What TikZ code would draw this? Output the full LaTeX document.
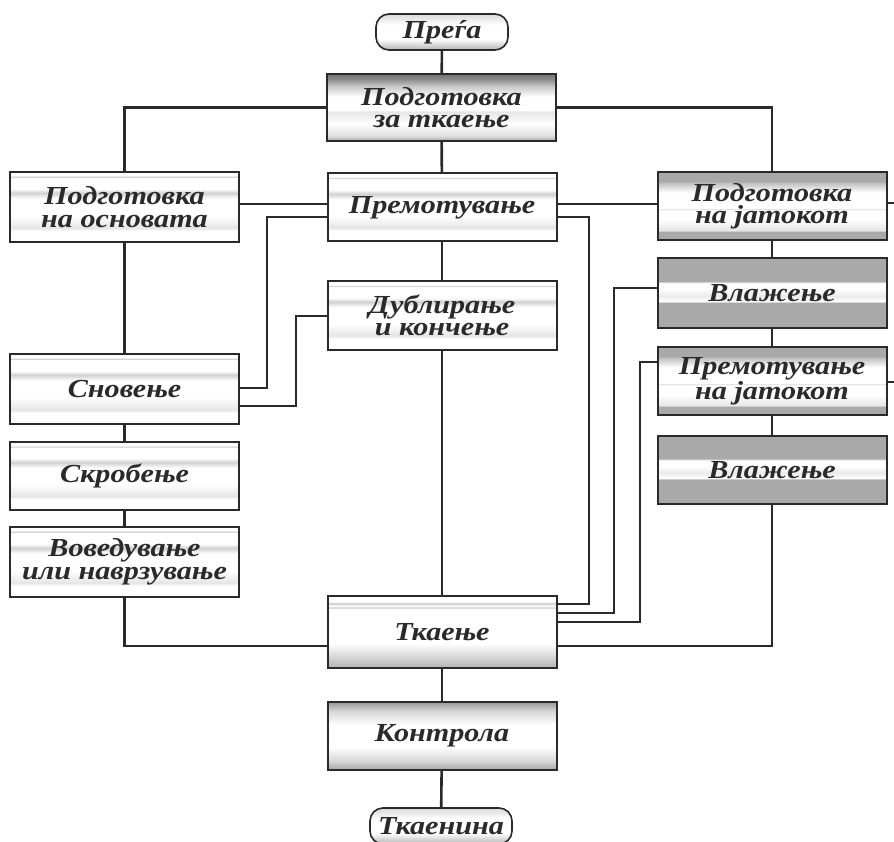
\documentclass[tikz,border=0pt]{standalone}
\usepackage{fontspec}
\setmainfont{Liberation Serif}
\newfontfamily\boxfont[FakeStretch=1.16]{Liberation Serif}
\definecolor{bg}{HTML}{A9A9A9}
\definecolor{ink}{HTML}{2A2A2A}
\pgfdeclareverticalshading{lightband}{100bp}{color(0bp)=(white); color(25bp)=(white); color(33bp)=(white); color(35bp)=(black!10); color(44bp)=(white); color(56bp)=(white); color(60bp)=(black!18); color(63bp)=(white); color(71bp)=(white); color(71.5bp)=(black!20); color(72.5bp)=(white); color(100bp)=(white)}
\pgfdeclareverticalshading{darkthick}{100bp}{color(0bp)=(bg); color(43bp)=(bg); color(44bp)=(white); color(48bp)=(black!8); color(53bp)=(white); color(57bp)=(white); color(58.5bp)=(bg); color(100bp)=(bg)}
\pgfdeclareverticalshading{darkthin}{100bp}{color(0bp)=(bg); color(31bp)=(bg); color(32bp)=(black!10); color(40bp)=(white); color(47bp)=(white); color(47.5bp)=(black!25); color(48bp)=(white); color(60bp)=(white); color(67bp)=(black!25); color(68bp)=(bg); color(100bp)=(bg)}
\pgfdeclareverticalshading{topdark}{100bp}{color(0bp)=(black!35); color(25bp)=(black!35); color(29bp)=(black!12); color(38bp)=(white); color(47bp)=(black!10); color(48bp)=(white); color(58bp)=(white); color(66bp)=(black!22); color(71bp)=(black!45); color(75bp)=(black!55); color(100bp)=(black!55)}
\pgfdeclareverticalshading{bottomdark}{100bp}{color(0bp)=(black!30); color(25bp)=(black!30); color(35bp)=(black!12); color(42bp)=(white); color(58bp)=(white); color(66bp)=(white); color(67bp)=(black!20); color(68bp)=(white); color(70bp)=(black!20); color(71bp)=(white); color(100bp)=(white)}
\pgfdeclareverticalshading{ctrl}{100bp}{color(0bp)=(black!35); color(25bp)=(black!35); color(32bp)=(black!15); color(42bp)=(white); color(58bp)=(white); color(68bp)=(black!15); color(75bp)=(black!40); color(100bp)=(black!40)}
\pgfdeclareverticalshading{pill}{100bp}{color(0bp)=(black!30); color(25bp)=(black!30); color(40bp)=(white); color(60bp)=(white); color(75bp)=(black!15); color(100bp)=(black!15)}
\begin{document}
\begin{tikzpicture}[x=1pt,y=-1pt,
  txt/.style={font=\boxfont\fontsize{26}{22.5}\selectfont\bfseries\itshape, text=ink, align=center},
  box/.style={txt, draw=ink, line width=2pt, minimum width=229pt, minimum height=68pt, inner sep=0pt},
  light/.style={box, shading=lightband},
  darkbox/.style={box, shading=darkthin},
  wetbox/.style={box, shading=darkthick},
  term/.style={txt, draw=ink, line width=1.6pt, rounded corners=13pt, minimum width=132pt, minimum height=36pt, inner sep=0pt, shading=pill},
  conn/.style={draw=ink, line width=2.6pt}]
\useasboundingbox (0,0) rectangle (894,842);
% nodes
\node[term] (prega) at (442,32) {Преѓа};
\node[box, shading=topdark, minimum height=67pt] (pzt) at (441.5,107.5) {Подготовка\\за ткаење};
\node[light, minimum height=70pt] (osn) at (124.5,207) {Подготовка\\на основата};
\node[light] (prem) at (442,207.5) {Премотување};
\node[light] (dubl) at (442,315.5) {Дублирање\\и кончење};
\node[darkbox] (jat) at (772,206) {Подготовка\\на јатокот};
\node[wetbox, minimum height=70pt] (vl1) at (772,293) {Влажење};
\node[darkbox] (premj) at (772,381) {Премотување\\на јатокот};
\node[wetbox] (vl2) at (772,470) {Влажење};
\node[light, minimum height=70pt] (snov) at (124.5,389) {Сновење};
\node[light] (skrob) at (124.5,476) {Скробење};
\node[light, minimum height=70pt] (vov) at (124.5,562) {Воведување\\или наврзување};
\node[box, shading=bottomdark, minimum height=72pt] (tkaen) at (442,632) {Ткаење};
\node[box, shading=ctrl] (kontr) at (442,736) {Контрола};
\node[term, minimum width=142pt] (tkan) at (441,826) {Ткаенина};
% connectors
\draw[conn] (prega) -- (pzt);
\draw[conn] (pzt.west) -| (osn.north);
\draw[conn] (pzt.east) -| (jat.north);
\draw[conn] (pzt) -- (prem);
\draw[conn] (prem) -- (dubl);
\draw[conn] (dubl) -- (tkaen);
\draw[conn] (tkaen) -- (kontr);
\draw[conn] (kontr) -- (tkan);
\draw[conn] (osn) -- (snov);
\draw[conn] (snov) -- (skrob);
\draw[conn] (skrob) -- (vov);
\draw[conn] (jat) -- (vl1);
\draw[conn] (vl1) -- (premj);
\draw[conn] (premj) -- (vl2);
\draw[conn] (osn.east |- 0,204) -- (prem.west |- 0,204);
\draw[conn] (prem.east |- 0,204) -- (jat.west |- 0,204);
\draw[conn] (snov.east |- 0,388) -- (267,388) -- (267,217) -- (prem.west |- 0,217);
\draw[conn] (snov.east |- 0,406) -- (296,406) -- (296,316) -- (dubl.west |- 0,316);
\draw[conn] (prem.east |- 0,217) -- (589,217) -- (589,604) -- (tkaen.east |- 0,604);
\draw[conn] (vl1.west |- 0,288) -- (614,288) -- (614,613) -- (tkaen.east |- 0,613);
\draw[conn] (premj.west |- 0,362) -- (640,362) -- (640,622) -- (tkaen.east |- 0,622);
\draw[conn] (tkaen.east |- 0,646) -| (vl2.south);
\draw[conn] (tkaen.west |- 0,646) -| (vov.south);
\coordinate (stub1) at (894,203);
\coordinate (stub2) at (894,382);
\draw[conn] (jat.east |- stub1) -- (stub1);
\draw[conn] (premj.east |- stub2) -- (stub2);
\end{tikzpicture}
\end{document}
